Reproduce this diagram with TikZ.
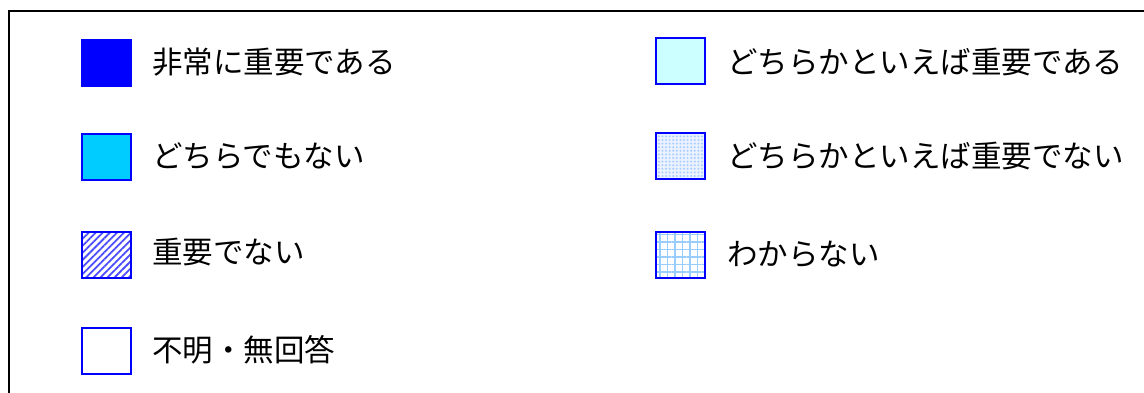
\documentclass[tikz,border=0pt]{standalone}
\usepackage{fontspec}
\setmainfont{Noto Sans CJK JP}
\usetikzlibrary{patterns.meta}
\definecolor{cblue}{HTML}{0000FF}
\definecolor{ccyan}{HTML}{00CCFF}
\definecolor{cpale}{HTML}{CCFFFF}
\definecolor{clight}{HTML}{99CCFF}
\definecolor{cdot}{HTML}{AACCFF}
\tikzset{
  swatch/.style={draw=cblue, line width=2pt, minimum width=49pt, minimum height=46pt, inner sep=0pt, anchor=north west},
  lbl/.style={anchor=west, inner sep=0pt, font=\fontsize{30.5}{33}\selectfont, text=black},
}
\begin{document}
\begin{tikzpicture}[x=1pt,y=-1pt]
\useasboundingbox (0,0) rectangle (1144,392);
\begin{scope}
\clip (0,0) rectangle (1144,392);
\draw[line width=2pt] (9,420) -- (9,11) -- (1170,11);
\end{scope}
% left column
\node[swatch, fill=cblue] (s1) at (81,39) {};
\node[swatch, fill=ccyan] (s2) at (81,133) {};
\node[swatch, pattern={Lines[angle=45,distance=5pt,line width=1.8pt]}, pattern color=cblue!70] (s3) at (81,231) {};
\node[swatch] (s4) at (81,327) {};
% right column
\node[swatch, fill=cpale] (s5) at (655,37) {};
\node[swatch, preaction={fill=cdot!25}, pattern={Dots[radius=1.1pt,distance=3.6pt]}, pattern color=cdot] (s6) at (655,132) {};
\node[swatch, pattern={Hatch[angle=0,distance=7.5pt,line width=1.5pt]}, pattern color=clight] (s7) at (655,231) {};
\node[lbl] (t1) at (152,62) {非常に重要である};
\node[lbl] (t2) at (152,156) {どちらでもない};
\node[lbl] (t3) at (152,252) {重要でない};
\node[lbl] (t4) at (152,350) {不明・無回答};
\node[lbl] (t5) at (727,62) {どちらかといえば重要である};
\node[lbl] (t6) at (727,156) {どちらかといえば重要でない};
\node[lbl] (t7) at (727,254) {わからない};
\end{tikzpicture}
\end{document}
